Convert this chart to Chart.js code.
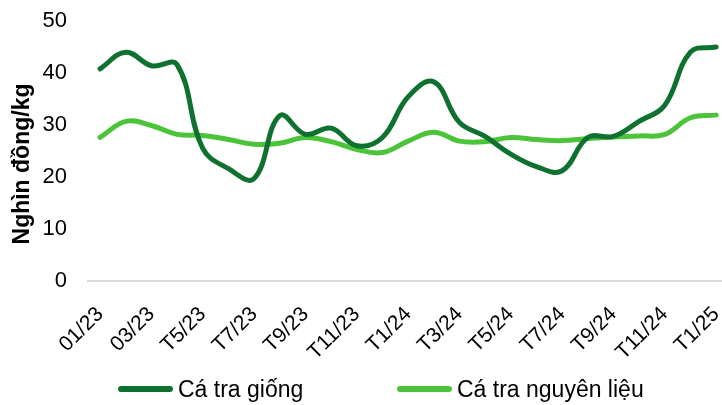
<!DOCTYPE html>
<html>
<head>
<meta charset="utf-8">
<script src="https://cdn.jsdelivr.net/npm/chart.js@4/dist/chart.umd.min.js"></script>
<style>
  html, body { margin: 0; padding: 0; background: #fff; }
  #wrap { position: relative; width: 722px; height: 405px; }
  #legend { position: absolute; top: 373px; left: 0; width: 722px; height: 32px;
            font-family: "Liberation Sans", Arial, sans-serif; font-size: 23px; color: #000; }
  .item { position: absolute; top: 0; display: flex; align-items: center; height: 32px; white-space: nowrap; }
  .swatch { width: 55px; height: 6px; border-radius: 3px; margin-right: 5px; }
</style>
</head>
<body>
<div id="wrap">
  <canvas id="c" width="722" height="405"></canvas>
  <div id="legend"></div>
</div>
<script>
// Tick labels (every second month, Jan 2023 – Jan 2025)
const tickLabels = ["01/23","03/23","T5/23","T7/23","T9/23","T11/23","T1/24","T3/24","T5/24","T7/24","T9/24","T11/24","T1/25"];
// Monthly values, 01/2023 .. 01/2025 (25 months), nghìn đồng/kg
const caTraGiong     = [40.8, 44.0, 41.4, 41.6, 25.5, 21.6, 19.7, 31.8, 28.2, 29.4, 26.0, 27.6, 35.4, 38.3, 30.5, 27.8, 24.4, 22.0, 21.2, 27.6, 27.8, 30.7, 33.8, 44.0, 45.0];
const caTraNguyenLieu = [27.6, 30.7, 29.9, 28.2, 28.0, 27.2, 26.3, 26.5, 27.6, 26.8, 25.3, 24.7, 26.9, 28.6, 26.9, 26.8, 27.6, 27.2, 27.0, 27.4, 27.7, 27.9, 28.2, 31.4, 31.9];
const seriesNames = ["Cá tra giống", "Cá tra nguyên liệu"];
const seriesColors = ["#0e712f", "#4cc43a"];
const yTitle = "Nghìn đồng/kg";

const toPts = arr => arr.map((v, i) => ({ x: i, y: v }));

const yTitlePlugin = {
  id: 'yTitle',
  afterDraw(chart) {
    const ctx = chart.ctx;
    ctx.save();
    ctx.translate(23, 164);
    ctx.rotate(-Math.PI / 2);
    ctx.font = 'bold 23px "Liberation Sans", Arial, sans-serif';
    ctx.fillStyle = '#000';
    ctx.textAlign = 'center';
    ctx.textBaseline = 'middle';
    ctx.fillText(yTitle, 0, 0);
    ctx.restore();
  }
};

new Chart(document.getElementById('c'), {
  type: 'line',
  data: {
    datasets: [
      { label: seriesNames[0], data: toPts(caTraGiong), borderColor: seriesColors[0], backgroundColor: seriesColors[0],
        borderWidth: 5, tension: 0.4, pointRadius: 0, borderCapStyle: 'round', borderJoinStyle: 'round', fill: false },
      { label: seriesNames[1], data: toPts(caTraNguyenLieu), borderColor: seriesColors[1], backgroundColor: seriesColors[1],
        borderWidth: 5, tension: 0.4, pointRadius: 0, borderCapStyle: 'round', borderJoinStyle: 'round', fill: false }
    ]
  },
  options: {
    responsive: false,
    animation: false,
    layout: { padding: { top: 21, right: 0, bottom: 0, left: 0 } },
    plugins: { legend: { display: false }, tooltip: { enabled: false } },
    scales: {
      x: {
        type: 'linear',
        min: -0.47,
        max: 24.23,
        grid: { display: false, drawTicks: false },
        border: { display: true, color: '#d9d9d9', width: 2 },
        afterBuildTicks: s => { s.ticks = tickLabels.map((_, k) => ({ value: k * 2 })); },
        afterFit: s => { s.height = 124; s.paddingLeft = 0; s.paddingRight = 0; },
        ticks: {
          autoSkip: false,
          minRotation: 45, maxRotation: 45,
          padding: 21,
          color: '#000',
          font: { family: '"Liberation Sans", Arial, sans-serif', size: 21 },
          callback: v => tickLabels[v / 2]
        }
      },
      y: {
        min: 0, max: 50,
        grid: { display: false, drawTicks: false },
        border: { display: false },
        afterFit: s => { s.width = 88; s.paddingTop = 0; s.paddingBottom = 0; },
        ticks: {
          stepSize: 10,
          padding: 21,
          color: '#000',
          font: { family: '"Liberation Sans", Arial, sans-serif', size: 22 }
        }
      }
    }
  },
  plugins: [yTitlePlugin]
});

// Legend (HTML text)
const legend = document.getElementById('legend');
const legendLeft = [118, 397];
seriesNames.forEach((name, i) => {
  const it = document.createElement('div');
  it.className = 'item';
  it.style.left = legendLeft[i] + 'px';
  const sw = document.createElement('span');
  sw.className = 'swatch';
  sw.style.background = seriesColors[i];
  const tx = document.createElement('span');
  tx.textContent = name;
  it.appendChild(sw); it.appendChild(tx);
  legend.appendChild(it);
});
</script>
</body>
</html>
